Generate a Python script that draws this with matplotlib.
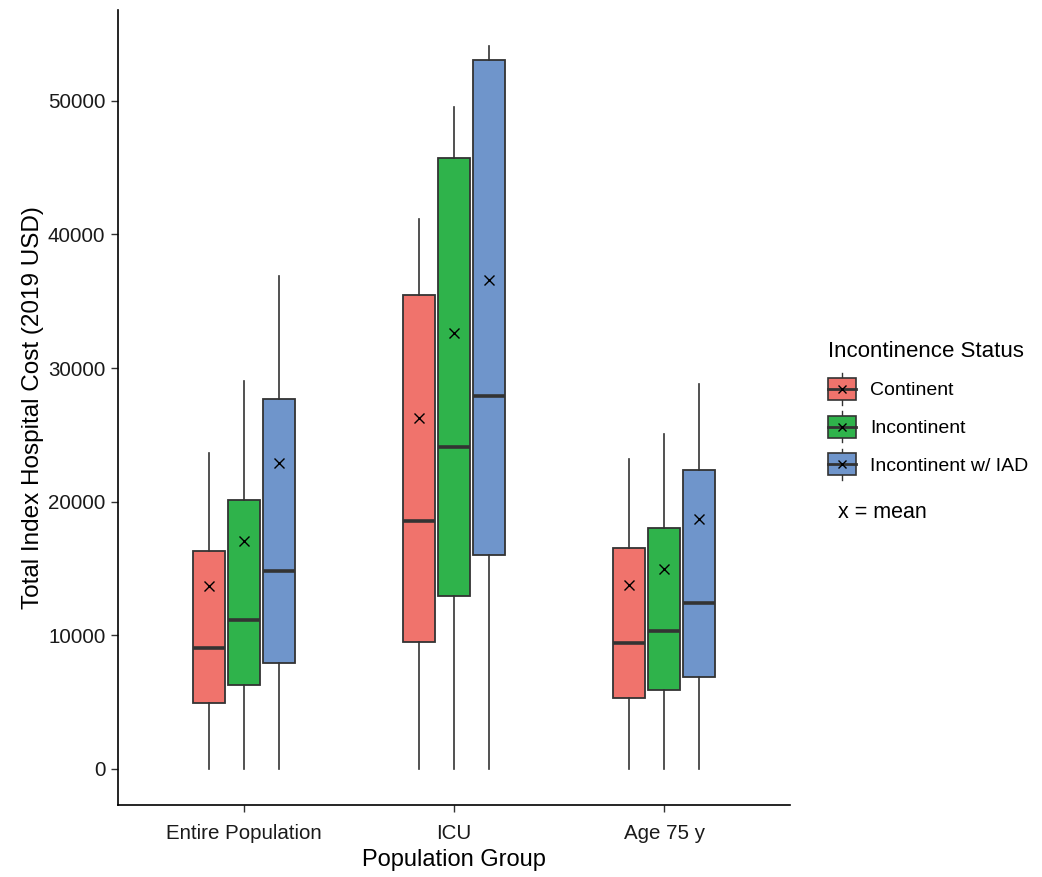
"""Boxplot of total index hospital cost by population group and incontinence status."""

import matplotlib

matplotlib.use("Agg")
import matplotlib.pyplot as plt  # noqa: E402
from matplotlib.legend_handler import HandlerBase  # noqa: E402
from matplotlib.lines import Line2D  # noqa: E402
from matplotlib.patches import Patch, Rectangle  # noqa: E402

plt.rcParams["font.family"] = ["Liberation Sans", "DejaVu Sans"]

# --- Data --------------------------------------------------------------

GROUPS = ["Entire Population", "ICU", "Age 75 y"]
STATUS = ["Continent", "Incontinent", "Incontinent w/ IAD"]
COLORS = ["#F0736C", "#2FB34B", "#6F95CB"]

# one list per status, one value per group
WHISK_LO = [[0, 0, 0], [0, 0, 0], [0, 0, 0]]
Q1 = [[4940, 9500, 5310], [6290, 12950, 5910], [7930, 16020, 6890]]
MEDIAN = [[9060, 18560, 9430], [11150, 24100, 10330], [14820, 27920, 12430]]
Q3 = [[16320, 35480, 16540], [20130, 45730, 18040], [27700, 53070, 22380]]
WHISK_HI = [[23650, 41170, 23200], [29040, 49550, 25070], [36900, 54120, 28820]]
MEAN = [[13700, 26270, 13770], [17070, 32630, 14970], [22900, 36600, 18710]]

EDGE = "#333333"


class BoxKeyHandler(HandlerBase):
    """Draw a small ggplot-style boxplot glyph as legend key."""

    def create_artists(self, legend, orig_handle, xdescent, ydescent,
                       width, height, fontsize, trans):
        x0, y0 = -xdescent, -ydescent
        cx, cy = x0 + width / 2, y0 + height / 2
        ext = height * 0.22
        whisk = Line2D([cx, cx], [y0 - ext, y0 + height + ext],
                       color=EDGE, lw=1.0, transform=trans)
        box = Rectangle((x0, y0), width, height,
                        facecolor=orig_handle.get_facecolor(),
                        edgecolor=EDGE, lw=1.2, transform=trans)
        med = Line2D([x0, x0 + width], [cy, cy], color=EDGE, lw=2.0,
                     transform=trans)
        mark = Line2D([cx], [cy], marker="x", color="black", ms=6,
                      mew=1.0, transform=trans)
        return [whisk, box, med, mark]


def main() -> None:
    fig = plt.figure(figsize=(10.42, 8.77), dpi=100)
    ax = fig.add_axes([118 / 1042, 72 / 877, (790 - 118) / 1042, (805 - 10) / 877])

    offsets = [-0.166, 0.0, 0.166]
    for s, name in enumerate(STATUS):
        stats = []
        for g in range(len(GROUPS)):
            stats.append({
                "whislo": WHISK_LO[s][g],
                "q1": Q1[s][g],
                "med": MEDIAN[s][g],
                "q3": Q3[s][g],
                "whishi": WHISK_HI[s][g],
                "mean": MEAN[s][g],
                "fliers": [],
            })
        positions = [g + 1 + offsets[s] for g in range(len(GROUPS))]
        ax.bxp(
            stats,
            positions=positions,
            widths=0.152,
            patch_artist=True,
            showmeans=True,
            showcaps=False,
            showfliers=False,
            boxprops=dict(facecolor=COLORS[s], edgecolor=EDGE, linewidth=1.3),
            medianprops=dict(color=EDGE, linewidth=2.6),
            whiskerprops=dict(color=EDGE, linewidth=1.2),
            meanprops=dict(marker="x", markeredgecolor="black",
                           markersize=7, markeredgewidth=1.0),
        )

    ax.set_xlim(0.4, 3.6)
    ax.set_ylim(-2700, 56800)
    ax.set_xticks([1, 2, 3])
    ax.set_xticklabels(GROUPS)
    ax.set_yticks([0, 10000, 20000, 30000, 40000, 50000])
    ax.set_yticklabels(["0", "10000", "20000", "30000", "40000", "50000"])

    for side in ("top", "right"):
        ax.spines[side].set_visible(False)
    for side in ("left", "bottom"):
        ax.spines[side].set_linewidth(1.2)
        ax.spines[side].set_color("black")
    ax.tick_params(axis="both", length=5, width=1.0, color="#333333",
                   labelsize=14.8, labelcolor="#1a1a1a", pad=4)
    ax.tick_params(axis="x", pad=9)

    ax.set_xlabel("Population Group", fontsize=17, labelpad=4)
    ax.set_ylabel("Total Index Hospital Cost (2019 USD)", fontsize=17.5,
                  labelpad=3)

    handles = [Patch(facecolor=c) for c in COLORS]
    fig.legend(
        handles,
        STATUS,
        title="Incontinence Status",
        title_fontsize=16,
        fontsize=14,
        loc="upper left",
        bbox_to_anchor=(828 / 1042, 1 - 341 / 877),
        frameon=False,
        borderpad=0,
        borderaxespad=0,
        alignment="left",
        handler_map={Patch: BoxKeyHandler()},
        handlelength=1.45,
        handleheight=1.35,
        handletextpad=0.7,
        labelspacing=0.82,
    )
    fig.text(838 / 1042, 1 - 513 / 877, "x = mean", fontsize=15.5,
             va="center", ha="left")

    fig.savefig("out.png", dpi=100)
    plt.close(fig)


if __name__ == "__main__":
    main()
